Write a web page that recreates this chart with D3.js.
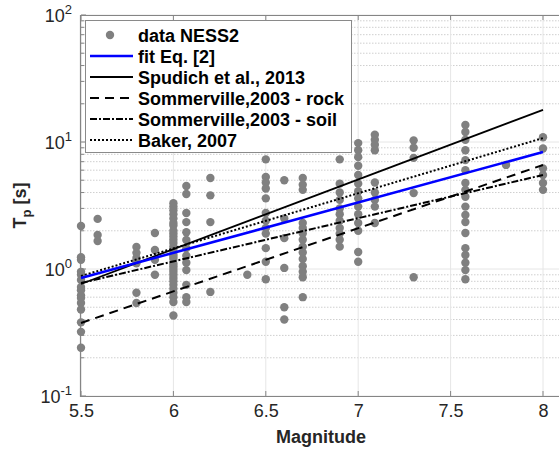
<!DOCTYPE html>
<html><head><meta charset="utf-8">
<script src="https://cdn.jsdelivr.net/npm/d3@7/dist/d3.min.js"></script>
<style>body{margin:0;background:#fff}svg{display:block}</style>
</head><body><svg id="c" width="559" height="450"></svg>
<script>
// ---- data ----
const xTicks = [5.5, 6, 6.5, 7, 7.5, 8];
const yTickExps = [-1, 0, 1, 2];
// NESS2 data: [magnitude, Tp]
const dataM = [5.5,5.5,5.5,5.5,5.5,5.5,5.5,5.5,5.5,5.5,5.5,5.5,5.5,5.5,5.5,
  5.59,5.59,5.59,
  5.8,5.8,5.8,5.8,5.8,5.8,
  5.9,5.9,5.9,5.9,
  6,6,6,6,6,6,6,6,6,6,6,6,6,6,6,6,6,6,6,6,6,6,6,6,6,6,6,6,6,6,
  6.07,6.07,6.07,6.07,6.07,6.07,6.07,6.07,6.07,6.07,6.07,6.07,6.07,
  6.2,6.2,6.2,6.2,
  6.4,
  6.5,6.5,6.5,6.5,6.5,6.5,6.5,6.5,6.5,6.5,6.5,6.5,
  6.6,6.6,6.6,6.6,6.6,6.6,
  6.7,6.7,6.7,6.7,6.7,6.7,6.7,6.7,6.7,6.7,6.7,6.7,6.7,6.7,
  6.9,6.9,6.9,6.9,6.9,6.9,6.9,6.9,6.9,6.9,6.9,
  7,7,7,7,7,7,7,7,7,7,7,7,7,7,
  7.09,7.09,7.09,7.09,7.09,7.09,7.09,7.09,7.09,
  7.3,7.3,7.3,7.3,7.3,
  7.58,7.58,7.58,7.58,7.58,7.58,7.58,7.58,7.58,7.58,7.58,7.58,7.58,7.58,7.58,7.58,7.58,7.58,
  7.8,
  8,8,8,8,8,8];
const dataTp = [2.18,1.24,1.18,0.95,0.9,0.82,0.72,0.68,0.62,0.59,0.54,0.48,0.38,0.32,0.24,
  2.48,1.85,1.66,
  1.49,1.34,1.22,1.11,0.65,0.54,
  1.92,1.41,1.18,0.9,
  3.3,3.1,2.9,2.7,2.5,2.3,2.2,2.0,1.9,1.8,1.7,1.6,1.5,1.4,1.3,1.25,1.2,1.1,1.05,1.0,0.95,0.9,0.85,0.8,0.75,0.7,0.65,0.6,0.55,0.43,
  4.5,3.9,2.76,2.34,1.95,1.69,1.46,1.27,1.12,0.98,0.75,0.6,0.55,
  5.2,3.8,2.34,0.66,
  0.9,
  7.3,5.3,4.8,4.3,3.6,2.76,2.4,2.1,1.9,1.46,1.14,0.83,
  5.0,2.5,1.75,1.02,0.5,0.4,
  5.2,4.6,4.2,2.3,2.1,1.9,1.7,1.5,1.35,1.2,1.05,0.95,0.86,0.6,
  7.3,4.7,4.0,3.5,3.0,2.7,2.4,2.1,1.9,1.7,1.5,
  9.8,8.6,7.6,6.5,5.5,4.7,4.1,3.6,3.1,2.7,2.3,2.0,1.36,1.14,
  11.4,10.4,9.5,8.6,4.8,4.0,3.5,3.1,2.3,
  10.3,9.0,7.5,3.96,0.86,
  13.6,12.0,10.4,8.6,7.2,6.0,4.75,4.2,3.7,3.1,2.66,2.34,1.92,1.46,1.29,1.12,0.98,0.83,
  6.6,
  10.9,8.9,6.2,5.5,4.75,4.2];
// model lines: Tp at M = 5.5 and M = 8
const lineM = [5.5, 8];
const fitTp = [0.849, 8.34];
const spudichTp = [0.762, 17.9];
const somRockTp = [0.376, 6.59];
const somSoilTp = [0.776, 5.50];
const bakerTp = [0.881, 10.74];
const seriesNames = ["data NESS2","fit Eq. [2]","Spudich et al., 2013","Sommerville,2003 - rock","Sommerville,2003 - soil","Baker, 2007"];

// ---- layout ----
const svg = d3.select("#c");
const L = 81, T = 15, B = 396;
const x = d3.scaleLinear().domain([5.5, 8.5]).range([L, L + 3*184.8]);
const y = d3.scaleLog().domain([0.1, 100]).range([B, T]);
const R = 559;
const axisCol = "#858585", textCol = "#262626";
const font = "'Liberation Sans', Arial, sans-serif";

const g = svg.append("g");
// minor grid (dotted)
const minorVals = [];
[0.1,1,10].forEach(d => { for (let k=2;k<=9;k++) minorVals.push(d*k); });
g.selectAll(".mg").data(minorVals).join("line")
  .attr("x1", L).attr("x2", R).attr("y1", d=>y(d)).attr("y2", d=>y(d))
  .attr("stroke", "#cfcfcf").attr("stroke-width", 1).attr("stroke-dasharray", "1.5,1.5");
// major grid
g.selectAll(".gy").data(yTickExps.map(e=>Math.pow(10,e))).join("line")
  .attr("x1", L).attr("x2", R).attr("y1", d=>y(d)).attr("y2", d=>y(d))
  .attr("stroke", "#e6e6e6").attr("stroke-width", 1);
g.selectAll(".gx").data(xTicks).join("line")
  .attr("x1", d=>x(d)).attr("x2", d=>x(d)).attr("y1", T).attr("y2", B)
  .attr("stroke", "#e6e6e6").attr("stroke-width", 1);

// axes using d3 axes
const xAxis = d3.axisBottom(x).tickValues(xTicks).tickSize(0).tickPadding(0).tickFormat(d3.format("~g"));
const xg = svg.append("g").attr("transform", `translate(0,${B})`).call(xAxis);
xg.select(".domain").remove();
xg.selectAll("text").attr("font-family", font).attr("font-size", 18).attr("fill", textCol).attr("dy", "1.15em");
svg.append("line").attr("x1", L).attr("x2", R).attr("y1", B+0.5).attr("y2", B+0.5).attr("stroke", axisCol).attr("stroke-width",1.2);
svg.append("line").attr("x1", L).attr("x2", R).attr("y1", T+0.5).attr("y2", T+0.5).attr("stroke", axisCol).attr("stroke-width",1.2);
svg.append("line").attr("x1", L-0.5).attr("x2", L-0.5).attr("y1", T).attr("y2", B+1).attr("stroke", axisCol).attr("stroke-width",1.2);
// x ticks (bottom and top, inward)
svg.selectAll(".xtb").data(xTicks).join("line").attr("x1", d=>x(d)).attr("x2", d=>x(d))
  .attr("y1", B).attr("y2", B-5).attr("stroke", axisCol);
svg.selectAll(".xtt").data(xTicks).join("line").attr("x1", d=>x(d)).attr("x2", d=>x(d))
  .attr("y1", T).attr("y2", T+5).attr("stroke", axisCol);
// y ticks
svg.selectAll(".ytm").data(yTickExps.map(e=>Math.pow(10,e))).join("line").attr("x1", L).attr("x2", L+5)
  .attr("y1", d=>y(d)).attr("y2", d=>y(d)).attr("stroke", axisCol);
svg.selectAll(".ytn").data(minorVals).join("line").attr("x1", L).attr("x2", L+3)
  .attr("y1", d=>y(d)).attr("y2", d=>y(d)).attr("stroke", axisCol);
// y tick labels 10^n
const yl = svg.selectAll(".ylab").data(yTickExps).join("text")
  .attr("x", L-9).attr("y", d=>y(Math.pow(10,d))+7).attr("text-anchor","end")
  .attr("font-family", font).attr("font-size", 18).attr("fill", textCol);
yl.append("tspan").text("10");
yl.append("tspan").attr("dy", -8).attr("font-size", 13).text(d=>d);

// axis labels
svg.append("text").attr("x", 321).attr("y", 443).attr("text-anchor","middle")
  .attr("font-family", font).attr("font-size", 18).attr("font-weight","bold").attr("fill", textCol).text("Magnitude");
const ylab = svg.append("text").attr("transform", `translate(26,${(T+B)/2}) rotate(-90)`).attr("text-anchor","middle")
  .attr("font-family", font).attr("font-size", 18).attr("font-weight","bold").attr("fill", textCol);
ylab.append("tspan").text("T");
ylab.append("tspan").attr("font-size", 13).attr("dy", 5).text("p");
ylab.append("tspan").attr("dy", -5).text(" [s]");

const plot = svg.append("g");
const pts = dataM.map((m,i)=>({m, tp:dataTp[i]}));
plot.selectAll("circle").data(pts).join("circle")
  .attr("cx", d=>x(d.m)).attr("cy", d=>y(d.tp)).attr("r", 4.2).attr("fill", "#808080");

const line = d3.line().x(d=>x(d[0])).y(d=>y(d[1]));
const styles = [
  {tp: fitTp, stroke:"#0000ff", w:2.6, dash:null},
  {tp: spudichTp, stroke:"#000", w:1.8, dash:null},
  {tp: somRockTp, stroke:"#000", w:2, dash:"9,6"},
  {tp: somSoilTp, stroke:"#000", w:2, dash:"7,2,2,2"},
  {tp: bakerTp, stroke:"#000", w:2, dash:"2,2"}
];
const drawOrder = [4,3,2,1,0];
drawOrder.forEach(i => {
  const s = styles[i];
  plot.append("path").attr("d", line(lineM.map((m,k)=>[m, s.tp[k]])))
    .attr("fill","none").attr("stroke", s.stroke).attr("stroke-width", s.w)
    .attr("stroke-dasharray", s.dash);
});

// legend
const lg = svg.append("g");
lg.append("rect").attr("x", 85.5).attr("y", 20.5).attr("width", 266).attr("height", 132)
  .attr("fill","#fff").attr("stroke","#8a8a8a").attr("stroke-width",1);
const rowY = i => 35 + i*21;
lg.append("circle").attr("cx",110).attr("cy",rowY(0)).attr("r",4.2).attr("fill","#808080");
styles.forEach((s,i)=>{
  lg.append("line").attr("x1",90).attr("x2",133).attr("y1",rowY(i+1)).attr("y2",rowY(i+1))
    .attr("stroke",s.stroke).attr("stroke-width",s.w).attr("stroke-dasharray",s.dash);
});
lg.selectAll(".lt").data(seriesNames).join("text")
  .attr("x",138).attr("y",(d,i)=>rowY(i)+6.5).attr("font-family",font).attr("font-size",18)
  .attr("font-weight","bold").attr("fill","#000").text(d=>d);
</script></body></html>
